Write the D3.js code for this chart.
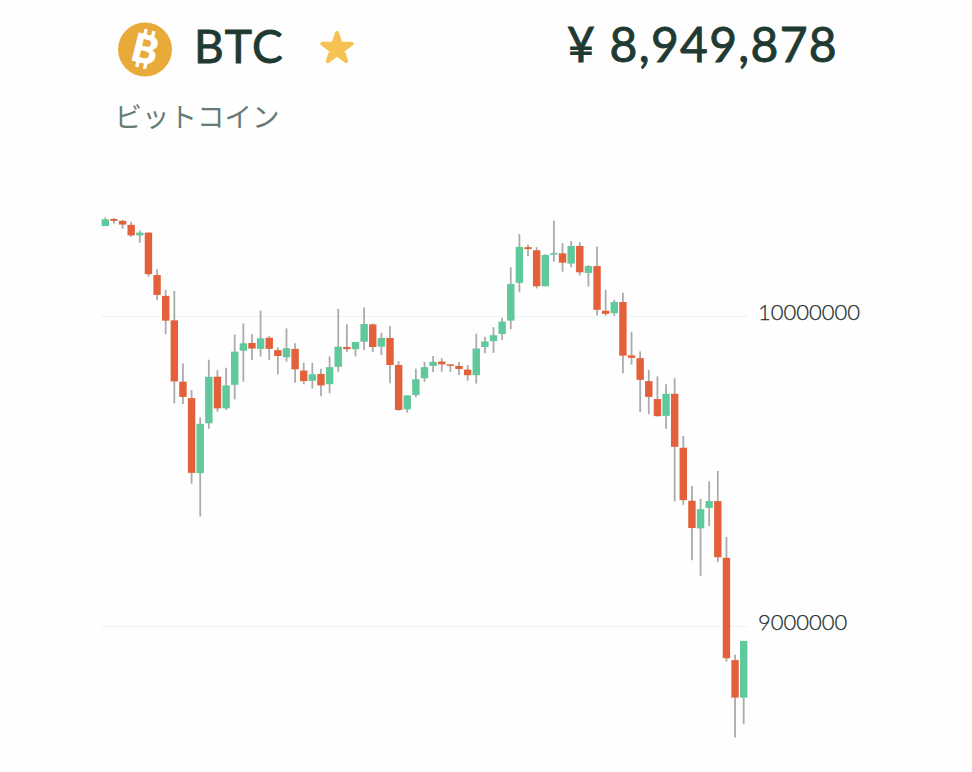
<!DOCTYPE html>
<html>
<head>
<meta charset="utf-8">
<script src="https://cdn.jsdelivr.net/npm/d3@7"></script>
<style>
html,body{margin:0;padding:0;background:#fefefe;overflow:hidden}
svg{display:block}
</style>
</head>
<body>
<svg id="chart" width="972" height="772"></svg>
<script>
const symbolName = "BTC";
const nameJa = "ビットコイン";
const priceLabel = "¥ 8,949,878";
const tickValues = [10000000, 9000000];
const unit = 1000;
// Prices in thousands of yen
const opens = [10290,10313,10307,10294,10260,10269,10132,10065,9986,9788,9735,9493,9654,9804,9702,9778,9888,9913,9894,9930,9890,9867,9894,9824,9791,9813,9780,9836,9900,9893,9917,9973,9901,9929,9842,9699,9745,9799,9839,9853,9844,9839,9827,9809,9900,9919,9942,9985,10107,10222,10212,10096,10198,10202,10169,10226,10139,10161,10017,10009,10045,9873,9864,9790,9732,9678,9749,9575,9404,9315,9381,9403,9220,8890,8769];
const closes = [10312,10307,10295,10260,10269,10135,10068,9985,9789,9739,9494,9652,9804,9702,9776,9885,9912,9895,9928,9894,9871,9896,9828,9790,9812,9776,9835,9901,9893,9916,9974,9900,9929,9842,9697,9744,9796,9835,9852,9844,9841,9829,9809,9895,9918,9938,9982,10103,10223,10216,10096,10197,10203,10172,10226,10141,10161,10020,10007,10045,9872,9865,9794,9739,9677,9749,9578,9406,9316,9377,9403,9222,8896,8769,8952];
const highs = [10318,10316,10310,10304,10276,10269,10151,10085,10081,9847,9761,9673,9859,9825,9833,9940,9976,9942,10017,9935,9899,9960,9912,9849,9849,9830,9870,10023,9973,9916,10028,9976,9946,9968,9854,9744,9830,9852,9871,9864,9844,9852,9842,9943,9933,9964,9994,10157,10264,10230,10222,10199,10307,10235,10242,10238,10164,10224,10084,10052,10075,9949,9886,9826,9805,9780,9799,9613,9452,9410,9467,9500,9287,8907,8952];
const lows = [10290,10298,10282,10255,10236,10127,10051,9942,9718,9716,9459,9353,9636,9691,9697,9731,9788,9858,9869,9858,9812,9853,9785,9780,9766,9741,9751,9820,9884,9870,9890,9884,9874,9783,9694,9688,9738,9788,9819,9820,9819,9810,9791,9782,9880,9881,9923,9957,10077,10193,10089,10096,10175,10143,10157,10131,10095,10002,10001,10000,9815,9843,9690,9683,9675,9636,9402,9391,9212,9162,9322,9206,8885,8640,8683];

const C = {up:"#5fc99c", down:"#e4603a", wick:"#ababab", grid:"#e9f5f4", axis:"#1c2e2b",
           title:"#1f3a32", sub:"#667b76", coin:"#e8ab3a", star:"#f5c253"};

const svg = d3.select("#chart");
svg.append("rect").attr("width",972).attr("height",772).attr("fill","#fefefe");

const x = d3.scaleBand().domain(d3.range(opens.length)).range([101,748]).paddingInner(0.14).paddingOuter(0.07);
const y = d3.scaleLinear().domain([9000000,10000000]).range([626,316]);

// Axis + gridlines
const axis = d3.axisRight(y).tickValues(tickValues).tickFormat(d3.format("d")).tickSize(-647).tickPadding(10);
const ag = svg.append("g").attr("transform","translate(748,0)").call(axis);
ag.select(".domain").remove();
ag.selectAll("line").attr("stroke",C.grid).attr("stroke-width",1);
ag.selectAll("text").attr("fill",C.axis).attr("stroke",C.axis).attr("stroke-width",0.25)
  .attr("font-family","Lato, sans-serif").attr("font-weight",300)
  .attr("font-size",22).attr("dy","0.15em").attr("x",10);

// Candles
const g = svg.append("g");
const idx = d3.range(opens.length);
const cx = i => x(i)+x.bandwidth()/2;
g.selectAll("line.wick").data(idx).join("line").attr("class","wick")
  .attr("x1",cx).attr("x2",cx)
  .attr("y1",i=>y(highs[i]*unit)).attr("y2",i=>y(lows[i]*unit))
  .attr("stroke",C.wick).attr("stroke-width",1.8);
g.selectAll("rect.body").data(idx).join("rect").attr("class","body")
  .attr("x",i=>x(i)).attr("width",x.bandwidth())
  .attr("y",i=>y(Math.max(opens[i],closes[i])*unit))
  .attr("height",i=>Math.max(1.5,Math.abs(y(opens[i]*unit)-y(closes[i]*unit))))
  .attr("fill",i=>closes[i]>=opens[i]?C.up:C.down);

// Header
const coin = svg.append("g").attr("transform","translate(145,49.5)");
coin.append("circle").attr("r",27).attr("fill",C.coin);
const b = coin.append("g").attr("transform","rotate(14)");
b.append("text").text("B").attr("text-anchor","middle").attr("y",13.5).attr("fill","#fff")
  .attr("stroke","#fff").attr("stroke-width",0.6)
  .attr("font-family","Lato, sans-serif").attr("font-weight",900).attr("font-size",39);
[-5,3].forEach(dx=>{
  b.append("rect").attr("x",dx-0.5).attr("y",-20).attr("width",3.4).attr("height",7).attr("fill","#fff");
  b.append("rect").attr("x",dx-0.5).attr("y",12).attr("width",3.4).attr("height",7).attr("fill","#fff");
});

svg.append("text").text(symbolName).attr("x",194).attr("y",63).attr("fill",C.title)
  .attr("stroke",C.title).attr("stroke-width",0.9)
  .attr("font-family","Lato, sans-serif").attr("font-weight",400).attr("font-size",46).attr("letter-spacing",1.6);

svg.append("path").attr("d",d3.symbol(d3.symbolStar,270)()).attr("transform","translate(337,48.5)")
  .attr("fill",C.star).attr("stroke",C.star).attr("stroke-width",4).attr("stroke-linejoin","round");

svg.append("text").text(priceLabel).attr("x",838).attr("y",62).attr("text-anchor","end").attr("fill",C.title)
  .attr("stroke",C.title).attr("stroke-width",0.9)
  .attr("font-family","Lato, sans-serif").attr("font-weight",400).attr("font-size",48).attr("letter-spacing",1.3);

svg.append("text").text(nameJa).attr("x",114.5).attr("y",127).attr("fill",C.sub)
  .attr("font-family","'Noto Sans CJK JP', sans-serif").attr("font-weight",400).attr("font-size",27.5);
</script>
</body>
</html>
